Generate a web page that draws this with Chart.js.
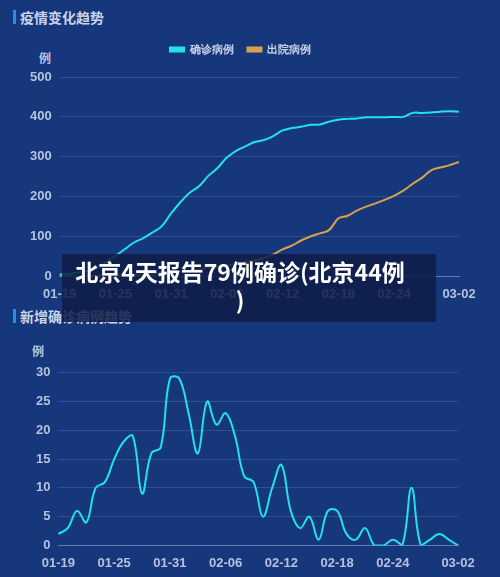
<!DOCTYPE html>
<html><head><meta charset="utf-8">
<script src="https://cdn.jsdelivr.net/npm/chart.js@4"></script>
<style>
body{margin:0;width:500px;height:577px;background:#17377d;position:relative;overflow:hidden;font-family:"Noto Sans CJK SC",sans-serif}
.t{position:absolute;left:13px;color:#c9d3e8;font-size:14px;font-weight:bold;border-left:3px solid #2a8de0;padding-left:4px;line-height:14px}
.u{position:absolute;color:#b9c6e0;font-size:12px;font-weight:bold}
canvas{position:absolute;left:0}
#ov{position:absolute;left:62px;top:254px;width:374px;height:68px;background:rgba(14,28,70,0.85);color:#fff;font-size:23px;font-weight:bold;text-align:center;line-height:28px;padding:3px 18px 0 0;box-sizing:border-box;white-space:nowrap}
</style></head><body>
<div class="t" style="top:10px">疫情变化趋势</div>
<div class="u" style="left:39px;top:49px">例</div>
<div class="t" style="top:309px">新增确诊病例趋势</div>
<div class="u" style="left:32px;top:342px">例</div>
<div style="position:absolute;left:0;top:30px;width:500px;height:274px"><canvas id="c1"></canvas></div>
<div style="position:absolute;left:0;top:357px;width:500px;height:216px"><canvas id="c2"></canvas></div>
<div id="ov">北京4天报告79例确诊(北京44例<br>)</div>
<script>
const dates=["01-19","01-20","01-21","01-22","01-23","01-24","01-25","01-26","01-27","01-28","01-29","01-30","01-31","02-01","02-02","02-03","02-04","02-05","02-06","02-07","02-08","02-09","02-10","02-11","02-12","02-13","02-14","02-15","02-16","02-17","02-18","02-19","02-20","02-21","02-22","02-23","02-24","02-25","02-26","02-27","02-28","02-29","03-01","03-02"];
const confirmed=[5,6,10,14,24,36,51,68,85,96,110,126,158,186,210,226,252,272,298,315,326,337,342,352,366,372,375,380,381,388,393,395,396,399,399,399,400,400,410,410,411,413,414,413];
const discharged=[0,0,0,1,1,2,2,3,4,4,5,9,10,12,13,18,23,25,28,31,36,40,46,55,68,77,90,100,108,116,145,152,165,175,183,192,202,215,232,247,266,273,279,287];
const daily=[2,3,6,4,10,11,15,18,19,9,16,17,29,29,23,16,25,21,23,19,12,11,5,10,14,6,3,5,1,6,6,2,1,3,0,0,1,0,10,0,1,2,1,0];
const tickColor='#b4c2de';
const grid='rgba(120,150,210,0.25)';
function xs(){return {grid:{display:false},border:{color:'rgba(150,170,220,0.5)'},ticks:{color:tickColor,font:{size:13,weight:'bold'},autoSkip:false,maxRotation:0,padding:2,callback:(v,i)=>((i%6===0&&i<42)||i===43)?dates[i]:''}};}
function ys(max,step){return {min:0,max:max,grid:{color:grid,drawTicks:false},border:{display:false},ticks:{color:tickColor,font:{size:13,weight:'bold'},stepSize:step,padding:8}};}
new Chart(document.getElementById('c1'),{type:'line',data:{labels:dates,datasets:[
{label:'确诊病例',data:confirmed,borderColor:'#22e0ec',backgroundColor:'#22e0ec',borderWidth:2,pointRadius:0,tension:0.4},
{label:'出院病例',data:discharged,borderColor:'#d9a24a',backgroundColor:'#d9a24a',borderWidth:2,pointRadius:0,tension:0.4}]},
options:{responsive:true,maintainAspectRatio:false,animation:false,layout:{padding:{left:22,right:41,top:0,bottom:0}},
plugins:{legend:{labels:{color:'#c9d3e8',boxWidth:14,boxHeight:4,font:{size:11,weight:'bold'},padding:14},padding:0},tooltip:{enabled:false}},
scales:{x:xs(),y:ys(500,100)}}, plugins:[{id:'sp',beforeInit(c){const f=c.legend.fit;c.legend.fit=function(){f.bind(c.legend)();this.height+=12;};}}]});
new Chart(document.getElementById('c2'),{type:'line',data:{labels:dates,datasets:[
{label:'新增确诊',data:daily,borderColor:'#22e0ec',borderWidth:2,pointRadius:0,tension:0.4},
]},
options:{responsive:true,maintainAspectRatio:false,animation:false,layout:{padding:{left:28,right:42,top:10,bottom:0}},
plugins:{legend:{display:false},tooltip:{enabled:false}},
scales:{x:xs(),y:ys(30,5)}}});
</script></body></html>
